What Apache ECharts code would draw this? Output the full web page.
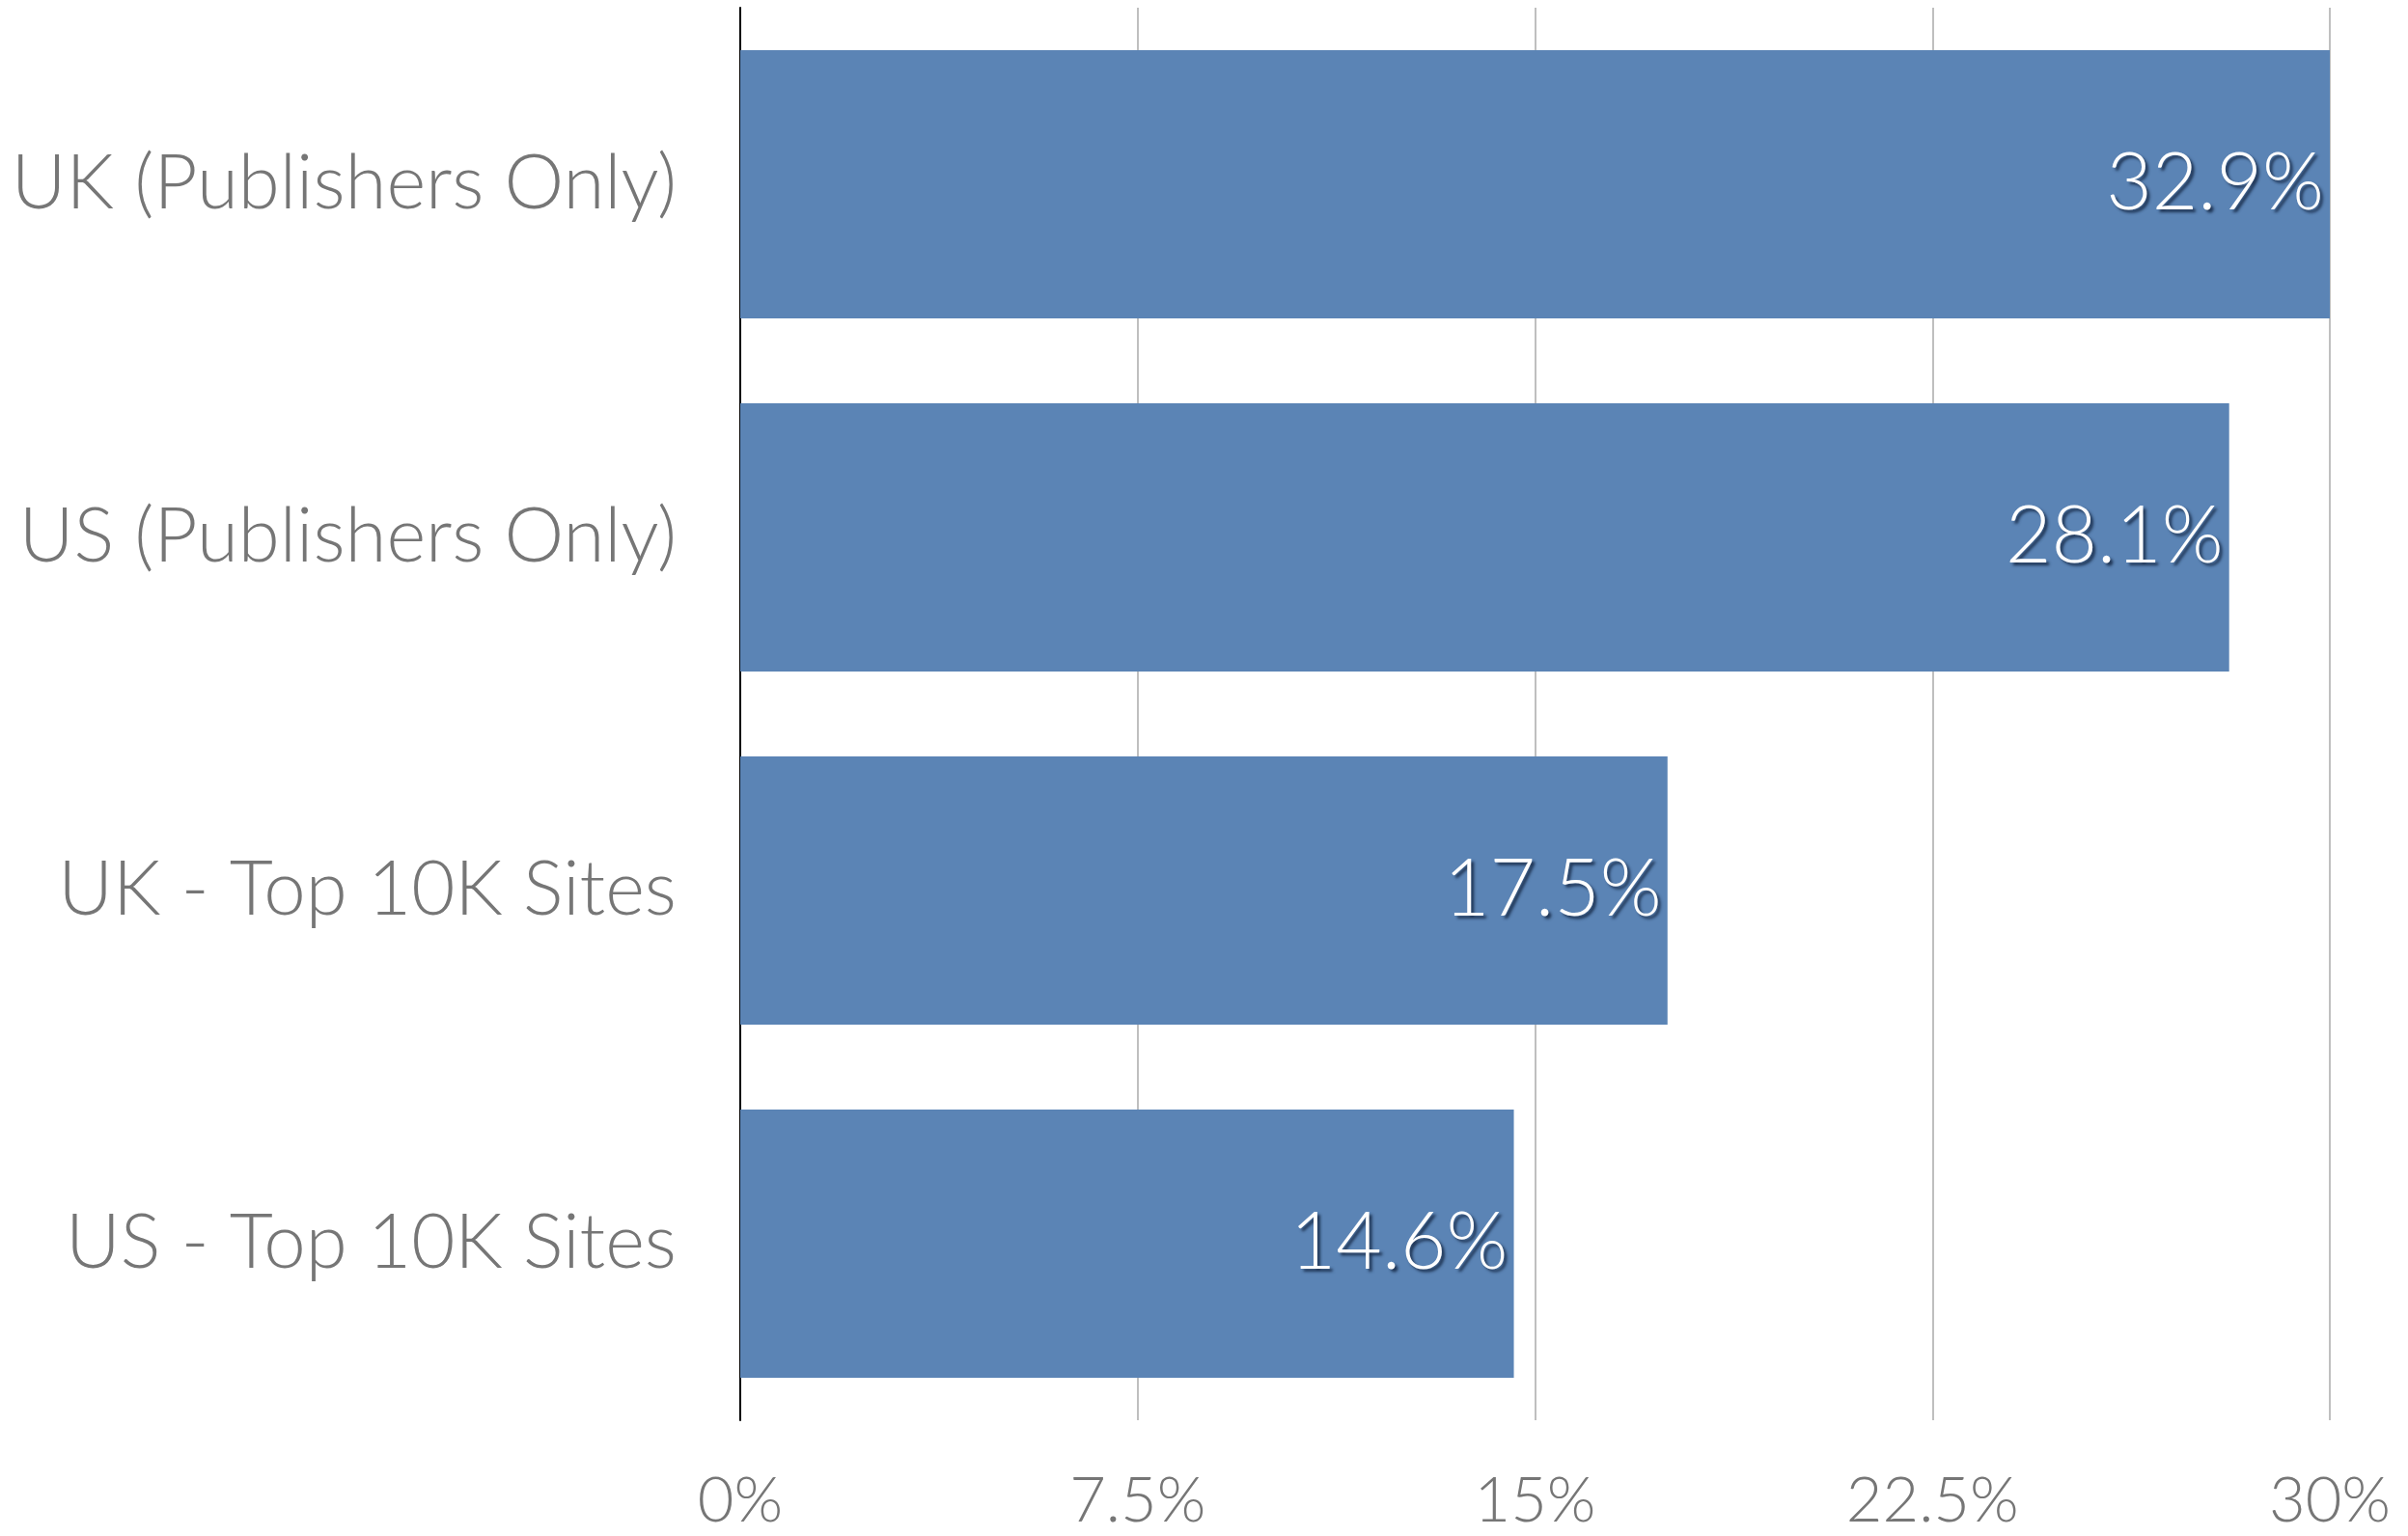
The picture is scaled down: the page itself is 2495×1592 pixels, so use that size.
<!DOCTYPE html>
<html>
<head>
<meta charset="utf-8">
<script src="https://cdn.jsdelivr.net/npm/echarts@6/dist/echarts.min.js"></script>
<style>
  html, body { margin: 0; padding: 0; background: #ffffff; }
  #chart { width: 2495px; height: 1592px; }
</style>
</head>
<body>
<div id="chart"></div>
<script>
// Share of sites, by group (top to bottom)
const categories = [
  'UK (Publishers Only)',
  'US (Publishers Only)',
  'UK - Top 10K Sites',
  'US - Top 10K Sites'
];
const shares = [32.9, 28.1, 17.5, 14.6];

// Value axis ticks
const axisMin = 0;
const axisMax = 30;
const axisStep = 7.5;

const FONT = 'Lato';
const GREY = '#767676';

const chart = echarts.init(document.getElementById('chart'), null, { renderer: 'canvas' });

chart.setOption({
  animation: false,
  backgroundColor: '#ffffff',
  grid: { left: 767, right: 81, top: 8, bottom: 120, containLabel: false },
  xAxis: {
    type: 'value',
    min: axisMin,
    max: axisMax,
    interval: axisStep,
    axisLine: { show: false },
    axisTick: { show: false },
    splitLine: { show: true, lineStyle: { color: '#bfbfbf', width: 2 } },
    axisLabel: {
      margin: 52,
      color: GREY,
      fontFamily: FONT,
      fontWeight: 300,
      fontSize: 65,
      formatter: v => v + '%'
    }
  },
  yAxis: {
    type: 'category',
    inverse: true,
    data: categories,
    axisLine: { show: true, lineStyle: { color: '#000000', width: 2 } },
    axisTick: { show: false },
    axisLabel: {
      margin: 66,
      color: GREY,
      fontFamily: FONT,
      fontWeight: 300,
      fontSize: 78
    }
  },
  series: [{
    type: 'bar',
    data: shares,
    barCategoryGap: '24%',
    clip: true,
    itemStyle: { color: '#5b84b5' },
    label: {
      show: true,
      position: 'insideRight',
      distance: 6,
      color: '#ffffff',
      fontFamily: FONT,
      fontWeight: 300,
      fontSize: 82,
      textShadowColor: 'rgba(25, 45, 75, 0.9)',
      textShadowBlur: 3,
      textShadowOffsetX: 3,
      textShadowOffsetY: 3,
      formatter: p => p.value.toFixed(1) + '%'
    }
  }]
});
</script>
</body>
</html>
